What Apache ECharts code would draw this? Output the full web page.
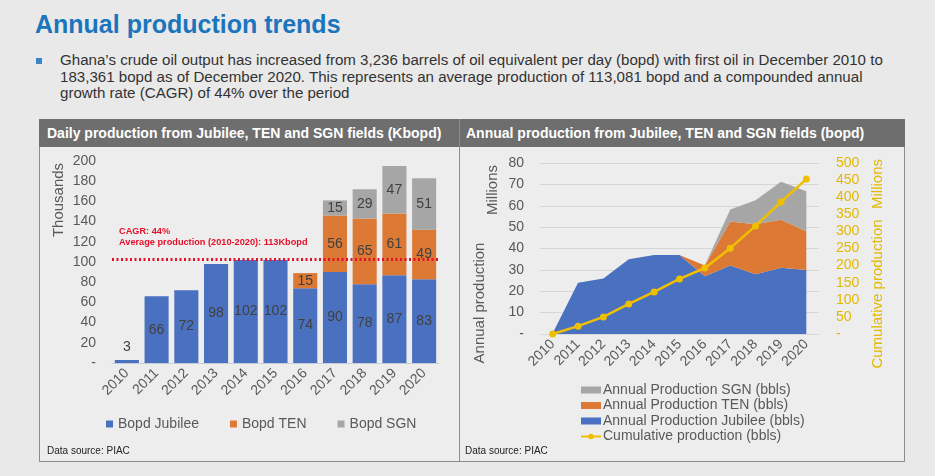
<!DOCTYPE html>
<html><head><meta charset="utf-8">
<script src="https://cdn.jsdelivr.net/npm/echarts@6/dist/echarts.min.js"></script>
<style>
html,body{margin:0;padding:0;width:935px;height:476px;overflow:hidden;background:#e9e9e9;font-family:"Liberation Sans",Arial,sans-serif;}
#title{position:absolute;left:35px;top:10px;font-size:25px;font-weight:bold;color:#1b75bc;white-space:nowrap;}
#bullet{position:absolute;left:36px;top:58px;width:6px;height:6px;background:#3a86c8;}
#para{position:absolute;left:60px;top:52px;font-size:15.1px;line-height:16.6px;color:#333;white-space:nowrap;}
.panel{position:absolute;top:119px;height:343px;border:1px solid #8c8c8c;background:#ededed;box-sizing:border-box;}
.hdr{position:absolute;top:119px;height:28px;background:#6e6e6e;color:#fff;font-weight:bold;font-size:14px;line-height:28px;box-sizing:border-box;padding-left:8px;white-space:nowrap;}
#chart{position:absolute;left:0;top:0;width:935px;height:476px;}
</style></head>
<body>
<div id="title">Annual production trends</div>
<div id="bullet"></div>
<div id="para">Ghana’s crude oil output has increased from 3,236 barrels of oil equivalent per day (bopd) with first oil in December 2010 to<br>183,361 bopd as of December 2020. This represents an average production of 113,081 bopd and a compounded annual<br>growth rate (CAGR) of 44% over the period</div>
<div class="panel" style="left:39px;width:421px;"></div>
<div class="panel" style="left:459px;width:446px;"></div>
<div class="hdr" style="left:39px;width:421px;">Daily production from Jubilee, TEN and SGN fields (Kbopd)</div>
<div class="hdr" style="left:459px;width:446px;border-left:1px solid #8c8c8c;padding-left:6px;">Annual production from Jubilee, TEN and SGN fields (bopd)</div>
<div id="chart"></div>
<script>
// ---- data ----
const years = ['2010','2011','2012','2013','2014','2015','2016','2017','2018','2019','2020'];
// Left chart: daily production (thousand bopd)
const bopdJubilee = [3, 66, 72, 98, 102, 102, 74, 90, 78, 87, 83];
const bopdTEN     = [0, 0, 0, 0, 0, 0, 15, 56, 65, 61, 49];
const bopdSGN     = [0, 0, 0, 0, 0, 0, 0, 15, 29, 47, 51];
const averageLine = 103;
const leftTicks = {min: 0, max: 200, interval: 20};
// Right chart: annual production (millions bbls)
const annualJubilee = [0.3, 24, 26, 35, 37, 37, 27, 32, 28, 31, 30];
const annualTEN     = [0, 0, 0, 0, 0, 0, 5, 20.6, 23.4, 22.4, 18.1];
const annualSGN     = [0, 0, 0, 0, 0, 0, 0, 5.6, 11.2, 17.8, 18.7];
const cumulative    = [0, 23, 50, 88, 123, 161, 193, 251, 316, 386, 453];
const rightTicksL = {min: 0, max: 80, interval: 10};
const rightTicksR = {min: 0, max: 500, interval: 50};

const C_BLUE = '#4a70c0', C_ORANGE = '#dc7934', C_GRAY = '#a6a6a6', C_YEL = '#f0c000';
const TXT = '#595959';
const FONT = '"Liberation Sans", Arial, sans-serif';
const dashZero = v => v === 0 ? '-' : v;
const hideZero = p => p.value ? p.value : '';

const chart = echarts.init(document.getElementById('chart'), null, {renderer: 'canvas'});
const barLabel = {show: true, position: 'inside', color: '#404040', fontSize: 14, fontFamily: FONT, formatter: hideZero};

chart.setOption({
  backgroundColor: 'transparent',
  animation: false,
  textStyle: {fontFamily: FONT},
  grid: [
    {left: 112, right: 496, top: 161, bottom: 113},
    {left: 540, right: 116, top: 163, bottom: 142}
  ],
  xAxis: [
    {type: 'category', gridIndex: 0, data: years,
     axisLine: {lineStyle: {color: '#c5cfdc'}}, axisTick: {show: false},
     axisLabel: {rotate: 45, interval: 0, color: TXT, fontSize: 14, margin: 8, fontFamily: FONT}},
    {type: 'category', gridIndex: 1, data: years, boundaryGap: true,
     axisLine: {lineStyle: {color: '#d9d9d9'}}, axisTick: {show: false},
     axisLabel: {rotate: 45, interval: 0, color: TXT, fontSize: 14, margin: 8, fontFamily: FONT}}
  ],
  yAxis: [
    {type: 'value', gridIndex: 0, min: leftTicks.min, max: leftTicks.max, interval: leftTicks.interval,
     axisLine: {show: false}, axisTick: {show: false}, splitLine: {show: false},
     axisLabel: {color: TXT, fontSize: 14, margin: 16, formatter: dashZero, fontFamily: FONT}},
    {type: 'value', gridIndex: 1, min: rightTicksL.min, max: rightTicksL.max, interval: rightTicksL.interval,
     axisLine: {show: false}, axisTick: {show: false}, splitLine: {lineStyle: {color: '#d6d6d6'}},
     axisLabel: {color: TXT, fontSize: 14, margin: 16, formatter: dashZero, fontFamily: FONT}},
    {type: 'value', gridIndex: 1, position: 'right', min: rightTicksR.min, max: rightTicksR.max, interval: rightTicksR.interval,
     axisLine: {show: false}, axisTick: {show: false}, splitLine: {show: false},
     axisLabel: {color: '#e3b800', fontSize: 14, margin: 17, formatter: dashZero, fontFamily: FONT}}
  ],
  legend: [
    {left: 101, top: 412, itemWidth: 7, itemHeight: 7, itemGap: 31, icon: 'rect',
     textStyle: {color: TXT, fontSize: 14, fontFamily: FONT},
     data: ['Bopd Jubilee', 'Bopd TEN', 'Bopd SGN']},
    {left: 575, top: 378, orient: 'vertical', itemWidth: 20, itemHeight: 7, itemGap: 1.5,
     textStyle: {color: TXT, fontSize: 14, fontFamily: FONT, padding: [0,0,0,-3]},
     data: [
       {name: 'Annual Production SGN (bbls)', icon: 'rect'},
       {name: 'Annual Production TEN (bbls)', icon: 'rect'},
       {name: 'Annual Production Jubilee (bbls)', icon: 'rect'},
       {name: 'Cumulative production (bbls)'}
     ]}
  ],
  series: [
    {name: 'Bopd Jubilee', type: 'bar', stack: 'd', xAxisIndex: 0, yAxisIndex: 0, barCategoryGap: '19%',
     itemStyle: {color: C_BLUE}, label: barLabel,
     data: bopdJubilee.map((v, i) => i === 0 ? {value: v, label: {position: 'top', distance: 6}} : v),
     markLine: {silent: true, symbol: 'none', label: {show: false},
       lineStyle: {color: '#e4102b', type: [2, 2.5], width: 3},
       data: [{yAxis: averageLine}]}},
    {name: 'Bopd TEN', type: 'bar', stack: 'd', xAxisIndex: 0, yAxisIndex: 0,
     itemStyle: {color: C_ORANGE}, label: barLabel, data: bopdTEN},
    {name: 'Bopd SGN', type: 'bar', stack: 'd', xAxisIndex: 0, yAxisIndex: 0,
     itemStyle: {color: C_GRAY}, label: barLabel, data: bopdSGN},

    {name: 'Annual Production Jubilee (bbls)', type: 'line', stack: 'a', xAxisIndex: 1, yAxisIndex: 1,
     symbol: 'none', lineStyle: {width: 0}, itemStyle: {color: C_BLUE}, areaStyle: {color: C_BLUE, opacity: 1},
     data: annualJubilee},
    {name: 'Annual Production TEN (bbls)', type: 'line', stack: 'a', xAxisIndex: 1, yAxisIndex: 1,
     symbol: 'none', lineStyle: {width: 0}, itemStyle: {color: C_ORANGE}, areaStyle: {color: C_ORANGE, opacity: 1},
     data: annualTEN},
    {name: 'Annual Production SGN (bbls)', type: 'line', stack: 'a', xAxisIndex: 1, yAxisIndex: 1,
     symbol: 'none', lineStyle: {width: 0}, itemStyle: {color: C_GRAY}, areaStyle: {color: C_GRAY, opacity: 1},
     data: annualSGN},
    {name: 'Cumulative production (bbls)', type: 'line', xAxisIndex: 1, yAxisIndex: 2, z: 5,
     symbol: 'circle', symbolSize: 7, lineStyle: {color: C_YEL, width: 2.5}, itemStyle: {color: C_YEL},
     data: cumulative}
  ],
  graphic: [
    {type: 'text', x: 59, y: 200, rotation: Math.PI / 2,
     style: {text: 'Thousands', fill: TXT, font: '15px ' + FONT, textAlign: 'center', textVerticalAlign: 'middle'}},
    {type: 'text', x: 119, y: 227,
     style: {text: 'CAGR: 44%', fill: '#e4102b', font: 'bold 9.2px ' + FONT}},
    {type: 'text', x: 119, y: 238,
     style: {text: 'Average production (2010-2020): 113Kbopd', fill: '#e4102b', font: 'bold 9.2px ' + FONT}},
    {type: 'text', x: 493, y: 190, rotation: Math.PI / 2,
     style: {text: 'Millions', fill: TXT, font: '15px ' + FONT, textAlign: 'center', textVerticalAlign: 'middle'}},
    {type: 'text', x: 480, y: 303, rotation: Math.PI / 2,
     style: {text: 'Annual production', fill: TXT, font: '15px ' + FONT, textAlign: 'center', textVerticalAlign: 'middle'}},
    {type: 'text', x: 878, y: 184, rotation: Math.PI / 2,
     style: {text: 'Millions', fill: '#e3b800', font: '15px ' + FONT, textAlign: 'center', textVerticalAlign: 'middle'}},
    {type: 'text', x: 878, y: 294, rotation: Math.PI / 2,
     style: {text: 'Cumulative production', fill: '#e3b800', font: '15px ' + FONT, textAlign: 'center', textVerticalAlign: 'middle'}},
    {type: 'text', x: 47, y: 446,
     style: {text: 'Data source: PIAC', fill: '#222', font: '10px ' + FONT}},
    {type: 'text', x: 465, y: 446,
     style: {text: 'Data source: PIAC', fill: '#222', font: '10px ' + FONT}}
  ]
});
</script>
</body></html>
